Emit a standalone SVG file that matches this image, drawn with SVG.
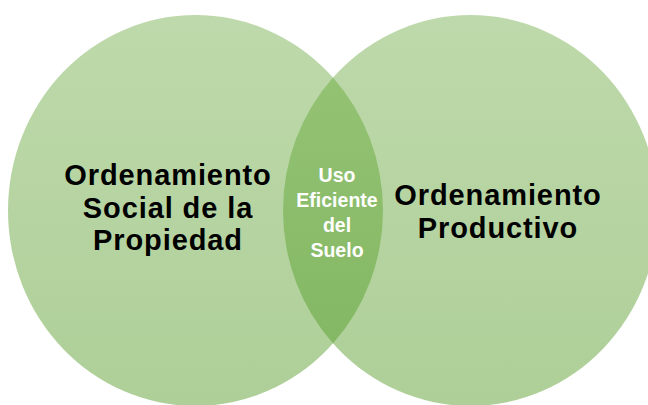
<svg xmlns="http://www.w3.org/2000/svg" width="648" height="405" viewBox="0 0 648 405">
  <defs>
    <linearGradient id="gCircle" x1="0" y1="0" x2="0" y2="1">
      <stop offset="0" stop-color="#BED9AB"/>
      <stop offset="1" stop-color="#AECF98"/>
    </linearGradient>
    <linearGradient id="gLens" gradientUnits="userSpaceOnUse" x1="0" y1="78" x2="0" y2="344">
      <stop offset="0" stop-color="#93C273"/>
      <stop offset="1" stop-color="#84B864"/>
    </linearGradient>
    <style>
      .circle { fill: url(#gCircle); }
      .lens { fill: url(#gLens); }
      .big { font-family: "Liberation Sans", Arial, sans-serif; font-weight: bold; font-size: 29px; letter-spacing: 0.9px; fill: #000; text-anchor: middle; }
      .small { font-family: "Liberation Sans", Arial, sans-serif; font-weight: bold; font-size: 19.5px; fill: #FFFFFF; text-anchor: middle; }
    </style>
  </defs>
  <rect width="648" height="405" fill="#FFFFFF"/>
  <g id="node-social">
    <ellipse class="circle" cx="195.5" cy="210.5" rx="187.5" ry="195.5"/>
    <text class="big" x="168" y="185"><tspan x="168" y="185">Ordenamiento</tspan><tspan x="168" y="217.5">Social de la</tspan><tspan x="168" y="250">Propiedad</tspan></text>
  </g>
  <g id="node-productivo">
    <ellipse class="circle" cx="470.5" cy="210.5" rx="187.5" ry="195.5"/>
    <text class="big" x="498" y="205"><tspan x="498" y="205">Ordenamiento</tspan><tspan x="498" y="237.5">Productivo</tspan></text>
  </g>
  <g id="node-uso">
    <path class="lens" d="M333 77.6 A187.5 195.5 0 0 1 333 343.4 A187.5 195.5 0 0 1 333 77.6 Z"/>
    <text class="small" x="337" y="182"><tspan x="337" y="182">Uso</tspan><tspan x="337" y="207">Eficiente</tspan><tspan x="337" y="232">del</tspan><tspan x="337" y="257">Suelo</tspan></text>
  </g>
  <g id="connectors"/>
</svg>
